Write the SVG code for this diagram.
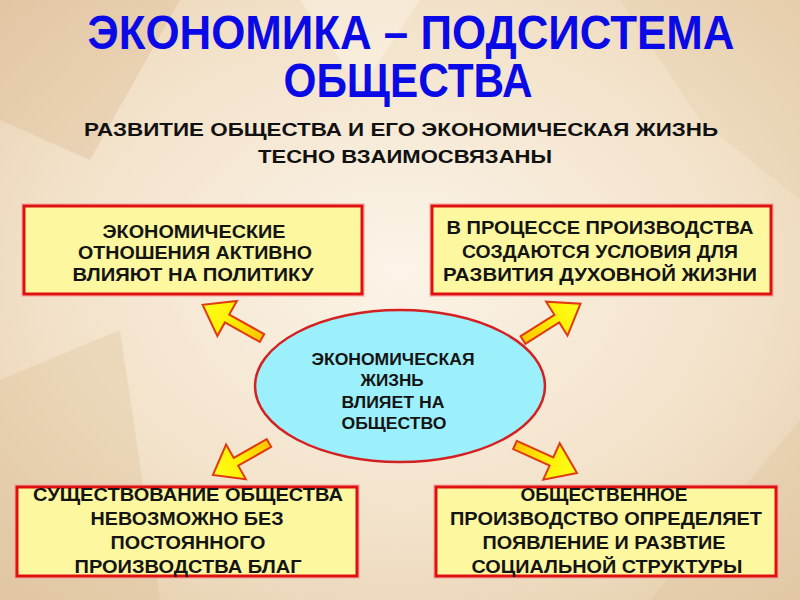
<svg xmlns="http://www.w3.org/2000/svg" width="800" height="600" viewBox="0 0 800 600">
<defs>
<radialGradient id="bg" cx="0.5" cy="0.45" r="0.75">
<stop offset="0" stop-color="#fbf4e8"/>
<stop offset="0.6" stop-color="#f2e1c8"/>
<stop offset="1" stop-color="#e2c9a6"/>
</radialGradient>
<linearGradient id="arrowFill" x1="0" y1="0" x2="1" y2="0">
<stop offset="0" stop-color="#ffc400"/>
<stop offset="0.5" stop-color="#ffee00"/>
<stop offset="1" stop-color="#ffff20"/>
</linearGradient>
<path id="arrow" d="M0,-4.5 L40,-4.5 L40,-20 L68,0 L40,20 L40,4.5 L0,4.5 Z"/>
</defs>
<style>
.title{font-family:"Liberation Sans",Arial,sans-serif;font-weight:bold;fill:#0a0ae6;text-anchor:middle;font-size:48px}
.sub{font-family:"Liberation Sans",Arial,sans-serif;font-weight:bold;fill:#111;text-anchor:middle;font-size:19px}
.box rect{fill:#fdf8a0;stroke:#e01010;stroke-width:3}
.box .glow{fill:none;stroke:#f4a0a0;stroke-width:6;opacity:0.5}
.bt{font-family:"Liberation Sans",Arial,sans-serif;font-weight:bold;fill:#141414;text-anchor:middle;font-size:18px}
.et{font-family:"Liberation Sans",Arial,sans-serif;fill:#141414;text-anchor:middle;font-size:16px;font-weight:bold}
.arr use{fill:url(#arrowFill);stroke:#e03a10;stroke-width:2;stroke-linejoin:miter}
</style>
<rect x="0" y="0" width="800" height="600" fill="url(#bg)"/>
<g opacity="0.35">
<polygon points="0,0 180,0 90,160 0,120" fill="#d9b88e"/>
<polygon points="620,0 800,0 800,200 700,120" fill="#e6cca8"/>
<polygon points="0,380 120,330 160,600 0,600" fill="#dcbf98"/>
<polygon points="650,600 800,420 800,600" fill="#e0c6a0"/>
<polygon points="300,0 420,0 360,90" fill="#fffaf0"/>
</g>
<g id="title">
<text class="title" x="411" y="49" textLength="647" lengthAdjust="spacingAndGlyphs">ЭКОНОМИКА – ПОДСИСТЕМА</text>
<text class="title" x="408" y="97" textLength="249" lengthAdjust="spacingAndGlyphs">ОБЩЕСТВА</text>
</g>
<g id="subtitle">
<text class="sub" x="401" y="136" textLength="634" lengthAdjust="spacingAndGlyphs">РАЗВИТИЕ  ОБЩЕСТВА И ЕГО ЭКОНОМИЧЕСКАЯ  ЖИЗНЬ</text>
<text class="sub" x="405" y="163" textLength="294" lengthAdjust="spacingAndGlyphs">ТЕСНО ВЗАИМОСВЯЗАНЫ</text>
</g>
<g id="connectors" class="arr">
<use href="#arrow" transform="translate(262,338) rotate(209.2)"/>
<use href="#arrow" transform="translate(523,340) rotate(-32.3)"/>
<use href="#arrow" transform="translate(269,443) rotate(150.3) scale(0.95,1)"/>
<use href="#arrow" transform="translate(515,445) rotate(24.3)"/>
</g>
<g id="center">
<ellipse cx="400" cy="386" rx="145" ry="76" fill="#9cf0fb" stroke="#d42020" stroke-width="2.5"/>
<text class="et" x="393" y="365" textLength="163" lengthAdjust="spacingAndGlyphs">ЭКОНОМИЧЕСКАЯ</text>
<text class="et" x="392" y="386" textLength="63" lengthAdjust="spacingAndGlyphs">ЖИЗНЬ</text>
<text class="et" x="393" y="408" textLength="103" lengthAdjust="spacingAndGlyphs">ВЛИЯЕТ НА</text>
<text class="et" x="394" y="429" textLength="105" lengthAdjust="spacingAndGlyphs">ОБЩЕСТВО</text>
</g>
<g id="box1" class="box">
<rect class="glow" x="24" y="206" width="338" height="88"/>
<rect x="24" y="206" width="338" height="88"/>
<text class="bt" x="194" y="238" textLength="183" lengthAdjust="spacingAndGlyphs">ЭКОНОМИЧЕСКИЕ</text>
<text class="bt" x="195" y="259" textLength="234" lengthAdjust="spacingAndGlyphs">ОТНОШЕНИЯ АКТИВНО</text>
<text class="bt" x="193" y="281" textLength="241" lengthAdjust="spacingAndGlyphs">ВЛИЯЮТ  НА  ПОЛИТИКУ</text>
</g>
<g id="box2" class="box">
<rect class="glow" x="432" y="206" width="339" height="88"/>
<rect x="432" y="206" width="339" height="88"/>
<text class="bt" x="600" y="234" textLength="307" lengthAdjust="spacingAndGlyphs">В ПРОЦЕССЕ  ПРОИЗВОДСТВА</text>
<text class="bt" x="600" y="258" textLength="276" lengthAdjust="spacingAndGlyphs">СОЗДАЮТСЯ УСЛОВИЯ ДЛЯ</text>
<text class="bt" x="600" y="281" textLength="314" lengthAdjust="spacingAndGlyphs">РАЗВИТИЯ  ДУХОВНОЙ  ЖИЗНИ</text>
</g>
<g id="box3" class="box">
<rect class="glow" x="17" y="487" width="340" height="89"/>
<rect x="17" y="487" width="340" height="89"/>
<text class="bt" x="188" y="501" textLength="310" lengthAdjust="spacingAndGlyphs">СУЩЕСТВОВАНИЕ  ОБЩЕСТВА</text>
<text class="bt" x="187" y="525" textLength="193" lengthAdjust="spacingAndGlyphs">НЕВОЗМОЖНО БЕЗ</text>
<text class="bt" x="188" y="549" textLength="155" lengthAdjust="spacingAndGlyphs">ПОСТОЯННОГО</text>
<text class="bt" x="188" y="573" textLength="227" lengthAdjust="spacingAndGlyphs">ПРОИЗВОДСТВА БЛАГ</text>
</g>
<g id="box4" class="box">
<rect class="glow" x="436" y="487" width="340" height="89"/>
<rect x="436" y="487" width="340" height="89"/>
<text class="bt" x="604" y="501" textLength="167" lengthAdjust="spacingAndGlyphs">ОБЩЕСТВЕННОЕ</text>
<text class="bt" x="606" y="525" textLength="312" lengthAdjust="spacingAndGlyphs">ПРОИЗВОДСТВО ОПРЕДЕЛЯЕТ</text>
<text class="bt" x="604" y="549" textLength="243" lengthAdjust="spacingAndGlyphs">ПОЯВЛЕНИЕ И РАЗВТИЕ</text>
<text class="bt" x="607" y="573" textLength="271" lengthAdjust="spacingAndGlyphs">СОЦИАЛЬНОЙ  СТРУКТУРЫ</text>
</g>
</svg>
